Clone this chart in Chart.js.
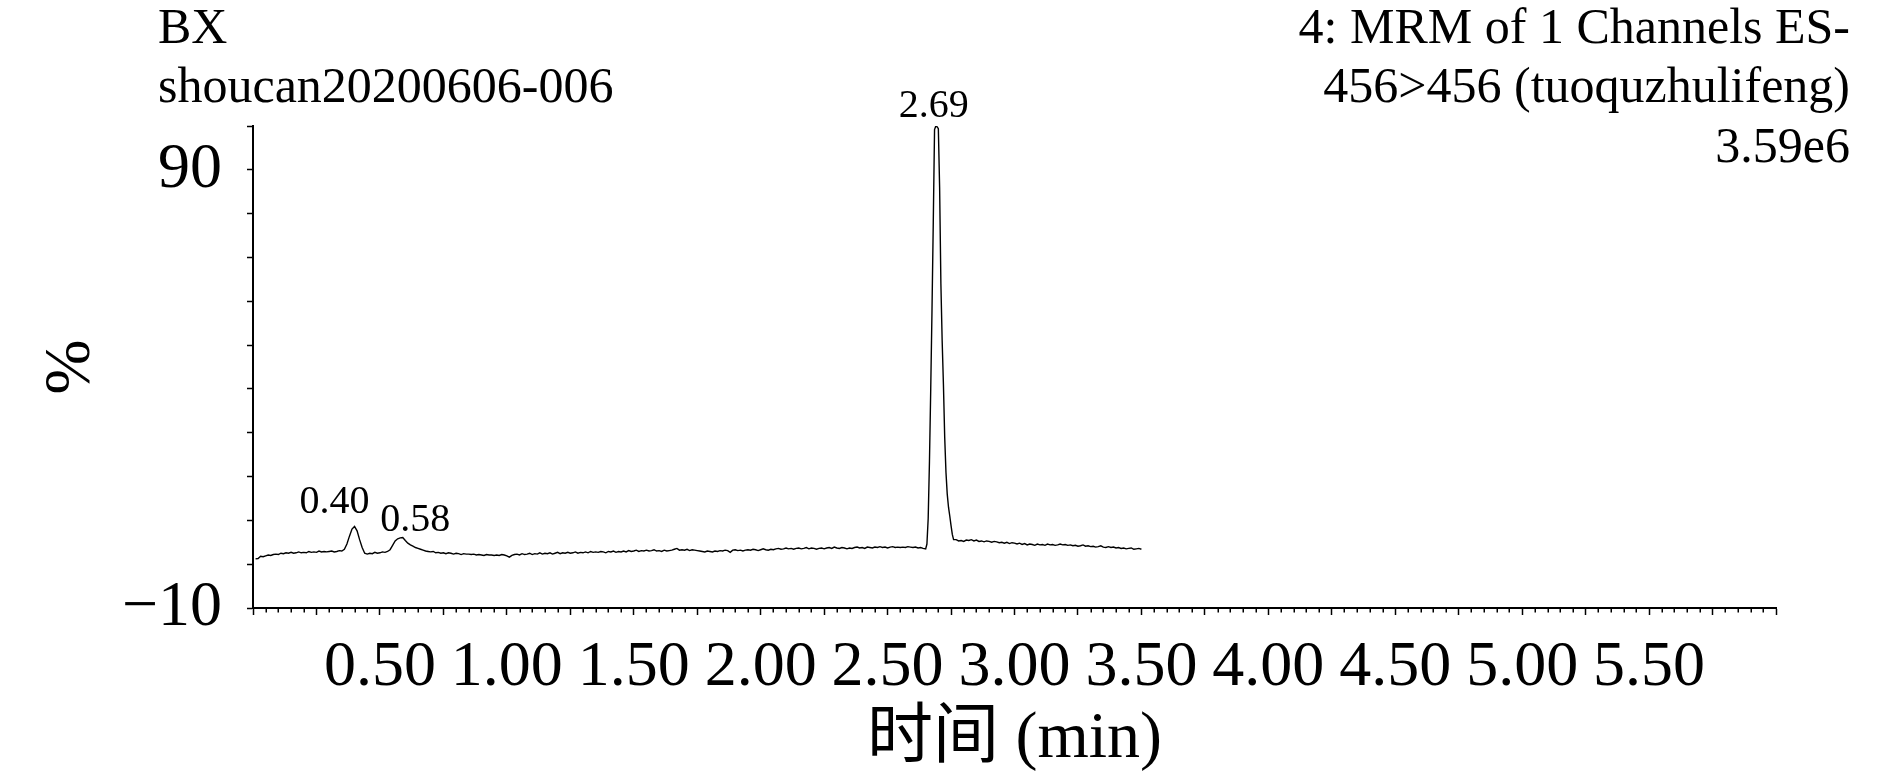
<!DOCTYPE html>
<html><head><meta charset="utf-8">
<script src="https://cdn.jsdelivr.net/npm/chart.js@4.4.0/dist/chart.umd.min.js"></script>
<style>html,body{margin:0;padding:0;background:#fff;}canvas{display:block;}</style>
</head><body>
<canvas id="c" width="1890" height="782"></canvas>
<script>
// ---------- data ----------
const headerLeft = ['BX', 'shoucan20200606-006'];
const headerRight = ['4: MRM of 1 Channels ES-', '456>456 (tuoquzhulifeng)', '3.59e6'];
const xTitle = '时间 (min)';
const yTitle = '%';
const xTickValues = [0.5, 1.0, 1.5, 2.0, 2.5, 3.0, 3.5, 4.0, 4.5, 5.0, 5.5];
const xTickLabels = ['0.50','1.00','1.50','2.00','2.50','3.00','3.50','4.00','4.50','5.00','5.50'];
const yTickValues = [90, -10];
const yTickLabels = ['90', '\u221210'];
const peakTimes = [0.40, 0.58, 2.69];
const peakHeights = [8.6, 6.1, 100];
const peakLabels = ['0.40', '0.58', '2.69'];

const traceTimes = [
0.01,0.02,0.03,0.04,0.05,0.06,0.07,0.08,0.09,0.10,
0.11,0.12,0.13,0.14,0.15,0.16,0.17,0.18,0.19,0.20,
0.21,0.22,0.23,0.24,0.25,0.26,0.27,0.28,0.29,0.30,
0.31,0.32,0.33,0.34,0.35,0.36,0.37,0.38,0.39,0.40,
0.41,0.42,0.43,0.44,0.45,0.46,0.47,0.48,0.49,0.50,
0.51,0.52,0.53,0.54,0.55,0.56,0.57,0.58,0.59,0.60,
0.61,0.62,0.63,0.64,0.65,0.66,0.67,0.68,0.69,0.70,
0.71,0.72,0.73,0.74,0.75,0.76,0.77,0.78,0.79,0.80,
0.81,0.82,0.83,0.84,0.85,0.86,0.87,0.88,0.89,0.90,
0.91,0.92,0.93,0.94,0.95,0.96,0.97,0.98,0.99,1.00,
1.01,1.02,1.03,1.04,1.05,1.06,1.07,1.08,1.09,1.10,
1.11,1.12,1.13,1.14,1.15,1.16,1.17,1.18,1.19,1.20,
1.21,1.22,1.23,1.24,1.25,1.26,1.27,1.28,1.29,1.30,
1.31,1.32,1.33,1.34,1.35,1.36,1.37,1.38,1.39,1.40,
1.41,1.42,1.43,1.44,1.45,1.46,1.47,1.48,1.49,1.50,
1.51,1.52,1.53,1.54,1.55,1.56,1.57,1.58,1.59,1.60,
1.61,1.62,1.63,1.64,1.65,1.66,1.67,1.68,1.69,1.70,
1.71,1.72,1.73,1.74,1.75,1.76,1.77,1.78,1.79,1.80,
1.81,1.82,1.83,1.84,1.85,1.86,1.87,1.88,1.89,1.90,
1.91,1.92,1.93,1.94,1.95,1.96,1.97,1.98,1.99,2.00,
2.01,2.02,2.03,2.04,2.05,2.06,2.07,2.08,2.09,2.10,
2.11,2.12,2.13,2.14,2.15,2.16,2.17,2.18,2.19,2.20,
2.21,2.22,2.23,2.24,2.25,2.26,2.27,2.28,2.29,2.30,
2.31,2.32,2.33,2.34,2.35,2.36,2.37,2.38,2.39,2.40,
2.41,2.42,2.43,2.44,2.45,2.46,2.47,2.48,2.49,2.50,
2.51,2.52,2.53,2.54,2.55,2.56,2.57,2.58,2.59,2.60,
2.61,2.62,2.63,2.64,
2.650,2.655,2.660,2.665,2.670,2.675,2.680,2.685,2.690,2.695,2.700,2.705,
2.710,2.715,2.720,2.725,2.730,2.735,2.740,2.745,2.750,2.755,2.760,
2.77,2.78,2.79,2.80,
2.81,2.82,2.83,2.84,2.85,2.86,2.87,2.88,2.89,2.90,
2.91,2.92,2.93,2.94,2.95,2.96,2.97,2.98,2.99,3.00,
3.01,3.02,3.03,3.04,3.05,3.06,3.07,3.08,3.09,3.10,
3.11,3.12,3.13,3.14,3.15,3.16,3.17,3.18,3.19,3.20,
3.21,3.22,3.23,3.24,3.25,3.26,3.27,3.28,3.29,3.30,
3.31,3.32,3.33,3.34,3.35,3.36,3.37,3.38,3.39,3.40,
3.41,3.42,3.43,3.44,3.45,3.46,3.47,3.48,3.49,3.50
];
const traceValues = [
1.2,1.3,1.8,1.7,1.9,2.1,2.0,2.2,2.3,2.2,
2.5,2.4,2.6,2.5,2.7,2.5,2.6,2.8,2.6,2.7,
2.6,2.9,2.7,2.8,2.7,3.0,2.8,2.9,2.8,2.9,
3.0,2.8,2.9,3.1,3.0,3.4,4.6,6.4,8.0,8.6,
7.6,5.6,3.8,2.5,2.3,2.5,2.4,2.7,2.5,2.6,
2.8,2.7,2.9,3.3,4.3,5.3,5.8,6.0,6.1,5.4,
4.8,4.4,4.1,3.8,3.6,3.4,3.2,3.0,2.9,2.8,
2.9,2.6,2.7,2.5,2.6,2.4,2.6,2.5,2.3,2.5,
2.4,2.2,2.4,2.3,2.3,2.2,2.3,2.1,2.2,2.1,
2.0,2.2,2.1,2.1,2.0,2.1,2.0,2.2,2.1,1.9,
1.6,2.0,2.2,2.3,2.1,2.4,2.2,2.3,2.5,2.2,
2.4,2.3,2.6,2.3,2.5,2.4,2.6,2.3,2.5,2.7,
2.4,2.6,2.5,2.7,2.5,2.6,2.8,2.5,2.7,2.6,
2.8,2.6,2.9,2.7,2.8,2.7,2.9,2.8,2.6,2.9,
2.8,3.0,2.7,2.9,2.8,3.0,2.8,3.1,2.9,3.0,
3.2,2.9,3.1,3.0,3.2,3.0,3.1,3.3,3.0,3.1,
2.9,3.2,3.0,3.1,3.2,3.4,3.6,3.2,3.3,3.2,
3.4,3.1,3.3,3.2,3.1,3.0,2.9,2.8,3.0,2.9,
2.8,3.0,2.9,3.1,3.0,3.2,3.1,2.7,3.2,3.3,
3.1,3.2,3.0,3.2,3.3,3.2,3.4,3.3,3.1,3.3,
3.5,3.3,3.2,3.4,3.3,3.5,3.6,3.4,3.5,3.7,
3.5,3.6,3.4,3.6,3.7,3.5,3.6,3.8,3.5,3.7,
3.6,3.4,3.6,3.7,3.5,3.7,3.8,3.6,3.9,3.7,
3.6,3.8,3.7,3.5,3.7,3.6,3.8,3.9,3.7,3.8,
3.6,3.9,3.8,3.7,3.9,3.8,4.0,3.8,3.9,3.7,
3.9,4.0,3.8,3.9,3.8,3.9,3.8,4.0,3.9,3.8,
3.9,3.7,3.8,3.6,
3.5,4.6,10.5,23.5,40.0,58.0,78.0,99.2,100.0,99.8,99.4,86.0,
64.0,51.0,41.0,29.0,21.0,16.0,13.0,11.0,8.8,6.8,5.6,
5.6,5.3,5.4,5.2,
5.5,5.4,5.6,5.3,5.5,5.2,5.3,5.1,5.3,5.2,
5.0,5.2,5.1,4.9,5.0,4.8,5.0,4.7,4.9,4.8,
4.6,4.8,4.5,4.7,4.4,4.6,4.5,4.3,4.6,4.4,
4.5,4.3,4.6,4.4,4.5,4.3,4.4,4.6,4.4,4.5,
4.3,4.4,4.2,4.3,4.1,4.2,4.4,4.1,4.2,4.0,
4.1,3.9,4.0,4.2,3.9,3.8,4.0,3.8,3.9,3.7,
3.8,3.6,3.7,3.5,3.6,3.7,3.4,3.5,3.6,3.4
];

// ---------- style ----------
const FONT = '"Liberation Serif", "Times New Roman", serif';
const CJK_FONT = '"Liberation Serif", "Noto Sans CJK SC", serif';
const peakLabelOffsets = [[-20, -13.5], [15, -6], [-2, -9.5]];

function near(a, b) { return Math.abs(a - b) < 1e-6; }

const minorTicks = {
  id: 'minorTicks',
  afterDraw(chart) {
    const xs = chart.scales.x, ctx = chart.ctx, bottom = chart.chartArea.bottom;
    ctx.save();
    ctx.strokeStyle = '#000';
    ctx.lineWidth = 1.5;
    for (let k = 0; k <= 120; k++) {
      if (k % 5 === 0) continue;
      const px = Math.round(xs.getPixelForValue(k * 0.05)) + 0.25;
      ctx.beginPath();
      ctx.moveTo(px, bottom);
      ctx.lineTo(px, bottom + 4.5);
      ctx.stroke();
    }
    ctx.restore();
  }
};

const texts = {
  id: 'texts',
  afterDraw(chart) {
    const ctx = chart.ctx, xs = chart.scales.x, ys = chart.scales.y;
    ctx.save();
    ctx.fillStyle = '#000';
    ctx.textBaseline = 'alphabetic';
    ctx.font = '50px ' + FONT;
    const baselines = [43, 102, 162];
    ctx.textAlign = 'left';
    headerLeft.forEach((t, i) => ctx.fillText(t, 158, baselines[i]));
    ctx.textAlign = 'right';
    headerRight.forEach((t, i) => ctx.fillText(t, 1850, baselines[i]));
    ctx.font = '40px ' + FONT;
    ctx.textAlign = 'center';
    peakLabels.forEach((t, i) => {
      const px = xs.getPixelForValue(peakTimes[i]) + peakLabelOffsets[i][0];
      const py = ys.getPixelForValue(peakHeights[i]) + peakLabelOffsets[i][1];
      ctx.fillText(t, px, py);
    });
    ctx.restore();
  }
};

new Chart(document.getElementById('c'), {
  type: 'line',
  data: {
    datasets: [{
      data: traceTimes.map((t, i) => ({x: t, y: traceValues[i]})),
      borderColor: '#000',
      borderWidth: 1.4,
      pointRadius: 0,
      tension: 0,
      fill: false
    }]
  },
  options: {
    responsive: false,
    animation: false,
    events: [],
    layout: { padding: { left: 0, right: 114, top: 126, bottom: 0 } },
    plugins: { legend: { display: false }, tooltip: { enabled: false } },
    scales: {
      x: {
        type: 'linear', min: 0, max: 6,
        afterFit(s) { s.height = 174; },
        border: { display: true, color: '#000', width: 2 },
        grid: { display: true, drawOnChartArea: false, drawTicks: true, tickLength: 7, tickColor: '#000', tickWidth: 1.5 },
        ticks: {
          stepSize: 0.25, maxTicksLimit: 1000, autoSkip: false, maxRotation: 0, minRotation: 0,
          padding: 21, color: '#000', font: { family: FONT, size: 64, lineHeight: 1 },
          callback(v) {
            const i = xTickValues.findIndex(t => near(t, v));
            return i >= 0 ? xTickLabels[i] : '';
          }
        },
        title: { display: true, text: xTitle, color: '#000', font: { family: CJK_FONT, size: 66, lineHeight: 1 }, padding: { top: 0, bottom: 9 } }
      },
      y: {
        type: 'linear', min: -10, max: 100,
        afterFit(s) { s.width = 253; },
        border: { display: true, color: '#000', width: 2 },
        grid: { display: true, drawOnChartArea: false, drawTicks: true, tickLength: 6, tickColor: '#000', tickWidth: 1.5 },
        ticks: {
          stepSize: 10, autoSkip: false, padding: 25, color: '#000',
          font: { family: FONT, size: 64, lineHeight: 1 },
          callback(v) {
            const i = yTickValues.findIndex(t => near(t, v));
            return i >= 0 ? yTickLabels[i] : '';
          }
        },
        title: { display: true, text: yTitle, color: '#000', font: { family: FONT, size: 66, lineHeight: 1 }, padding: { top: 39, bottom: 0 } }
      }
    }
  },
  plugins: [minorTicks, texts]
});
</script>
</body></html>
